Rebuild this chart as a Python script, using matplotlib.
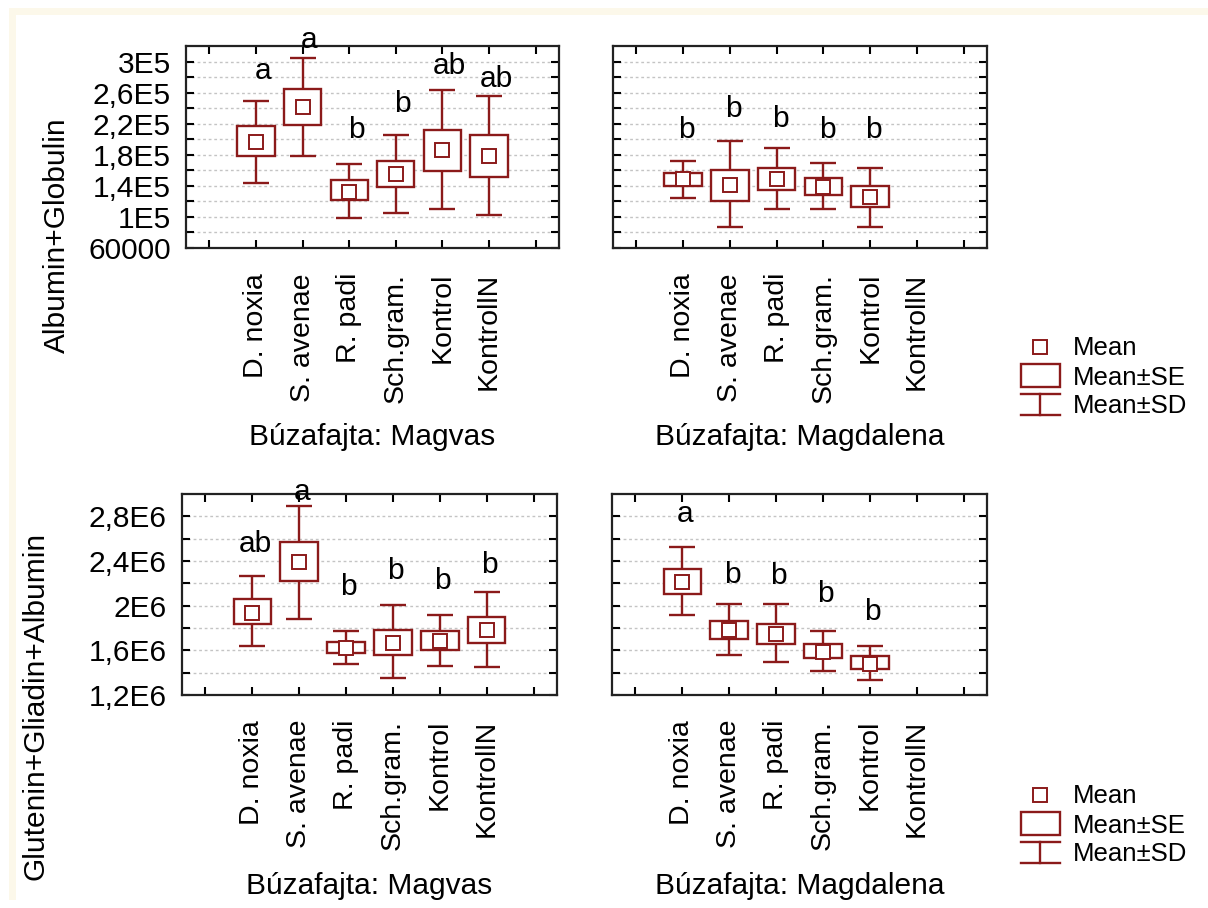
import matplotlib
matplotlib.use("Agg")
import matplotlib.pyplot as plt
from matplotlib.patches import Rectangle
import numpy as np

plt.rcParams['font.family'] = ['Liberation Sans', 'DejaVu Sans']

# ---------------- data ----------------
categories = ['D. noxia', 'S. avenae', 'R. padi', 'Sch.gram.', 'Kontrol', 'KontrollN']
xtick_labels = [''] + categories + ['']

# Albumin+Globulin, Magvas
ag_mv_mean = [197000, 241300, 132600, 155600, 186100, 178700]
ag_mv_se_lo = [179000, 218700, 121300, 138300, 158700, 151700]
ag_mv_se_hi = [216500, 265000, 147000, 172600, 212200, 205200]
ag_mv_sd_lo = [144000, 179000, 98300, 105200, 110000, 103000]
ag_mv_sd_hi = [249000, 304000, 168300, 205200, 263000, 256100]
ag_mv_letters = ['a', 'a', 'b', 'b', 'ab', 'ab']
ag_mv_letter_y = [288300, 327400, 212200, 244800, 293900, 277400]

# Albumin+Globulin, Magdalena (no KontrollN)
ag_md_mean = [148300, 141300, 148300, 139100, 125700]
ag_md_se_lo = [140000, 120900, 135200, 128300, 112600]
ag_md_se_hi = [156500, 160900, 163500, 149600, 140000]
ag_md_sd_lo = [123900, 87400, 110000, 110000, 87000]
ag_md_sd_hi = [172600, 198300, 188700, 170000, 163500]
ag_md_letters = ['b', 'b', 'b', 'b', 'b']
ag_md_letter_y = [212200, 238300, 226100, 212200, 212200]

# Glutenin+Gliadin+Albumin, Magvas
gga_mv_mean = [1.938e6, 2.392e6, 1.618e6, 1.666e6, 1.684e6, 1.778e6]
gga_mv_se_lo = [1.832e6, 2.222e6, 1.572e6, 1.560e6, 1.605e6, 1.669e6]
gga_mv_se_hi = [2.062e6, 2.573e6, 1.672e6, 1.781e6, 1.769e6, 1.899e6]
gga_mv_sd_lo = [1.642e6, 1.881e6, 1.482e6, 1.348e6, 1.463e6, 1.448e6]
gga_mv_sd_hi = [2.268e6, 2.897e6, 1.769e6, 2.008e6, 1.914e6, 2.123e6]
gga_mv_letters = ['ab', 'a', 'b', 'b', 'b', 'b']
gga_mv_letter_y = [2.549e6, 3.018e6, 2.165e6, 2.307e6, 2.222e6, 2.368e6]

# Glutenin+Gliadin+Albumin, Magdalena (no KontrollN)
gga_md_mean = [2.216e6, 1.778e6, 1.748e6, 1.587e6, 1.476e6]
gga_md_se_lo = [2.104e6, 1.702e6, 1.657e6, 1.527e6, 1.430e6]
gga_md_se_hi = [2.331e6, 1.863e6, 1.832e6, 1.657e6, 1.545e6]
gga_md_sd_lo = [1.914e6, 1.560e6, 1.494e6, 1.415e6, 1.333e6]
gga_md_sd_hi = [2.525e6, 2.011e6, 2.011e6, 1.769e6, 1.642e6]
gga_md_letters = ['a', 'b', 'b', 'b', 'b']
gga_md_letter_y = [2.821e6, 2.277e6, 2.268e6, 2.104e6, 1.944e6]

# axis ticks
ag_yticks = [60000, 80000, 100000, 120000, 140000, 160000, 180000, 200000,
             220000, 240000, 260000, 280000, 300000]
ag_yticklabels = ['60000', '', '1E5', '', '1,4E5', '', '1,8E5', '', '2,2E5', '',
                  '2,6E5', '', '3E5']
gga_yticks = [1.2e6, 1.4e6, 1.6e6, 1.8e6, 2.0e6, 2.2e6, 2.4e6, 2.6e6, 2.8e6]
gga_yticklabels = ['1,2E6', '', '1,6E6', '', '2E6', '', '2,4E6', '', '2,8E6']

ag_ylim = (60000, 320000)
gga_ylim = (1.2e6, 3.0e6)

ylabel_top = 'Albumin+Globulin'
ylabel_bottom = 'Glutenin+Gliadin+Albumin'
xlabel_left = 'Búzafajta: Magvas'
xlabel_right = 'Búzafajta: Magdalena'
legend_labels = ['Mean', 'Mean±SE', 'Mean±SD']

# ---------------- style ----------------
RED = '#8b1a1a'
FS = 21.5
FS_XT = 20.5
W, H = 1208, 908

fig = plt.figure(figsize=(W / 100, H / 100), dpi=100)
fig.patch.set_facecolor('white')


def px_axes(l, t, r, b):
    return fig.add_axes([l / W, 1 - b / H, (r - l) / W, (b - t) / H])


def draw_panel(ax, mean, se_lo, se_hi, sd_lo, sd_hi, letters, letter_y,
               yticks, yticklabels, ylim, show_ylabels, xlabel, letter_dx,
               xlabel_y):
    x = np.arange(1, len(mean) + 1)
    bw, cw = 0.40, 0.28
    ax.vlines(x, sd_lo, sd_hi, color=RED, lw=1.7, zorder=3)
    ax.hlines(sd_lo, x - cw, x + cw, color=RED, lw=1.7, zorder=3)
    ax.hlines(sd_hi, x - cw, x + cw, color=RED, lw=1.7, zorder=3)
    for xi, lo, hi in zip(x, se_lo, se_hi):
        ax.add_patch(Rectangle((xi - bw, lo), 2 * bw, hi - lo, facecolor='white',
                               edgecolor=RED, lw=1.7, zorder=4))
    ax.plot(x, mean, linestyle='none', marker='s', ms=9.5, mfc='white',
            mec=RED, mew=1.4, zorder=5)
    for xi, lab, ly in zip(x, letters, letter_y):
        ax.text(xi + letter_dx, ly, lab, ha='center', va='center', fontsize=FS,
                color='black', clip_on=False, zorder=6)

    ax.set_xlim(-0.5, 7.5)
    ax.set_ylim(*ylim)
    ax.set_xticks(range(8))
    ax.set_xticklabels(xtick_labels, rotation=90, fontsize=FS_XT)
    ax.set_yticks(yticks)
    if show_ylabels:
        ax.set_yticklabels(yticklabels, fontsize=FS)
    else:
        ax.set_yticklabels([''] * len(yticks))
    ax.tick_params(axis='x', direction='in', length=6, width=1.5, top=True,
                   bottom=True, pad=18, colors='black')
    ax.tick_params(axis='y', direction='in', length=6, width=1.5, left=True,
                   right=True, pad=11, colors='black')
    ax.yaxis.grid(True, linestyle=(0, (2, 2)), color='#c4c4c4', lw=1.0)
    ax.set_axisbelow(True)
    for sp in ax.spines.values():
        sp.set_linewidth(1.6)
        sp.set_color('#222222')
    ax.set_xlabel(xlabel, fontsize=FS)
    ax.xaxis.set_label_coords(0.5, xlabel_y)


ax_tl = px_axes(186, 46, 559, 248)
ax_tr = px_axes(613, 46, 987, 248)
ax_bl = px_axes(182, 494, 557, 695)
ax_br = px_axes(612, 494, 987, 695)

draw_panel(ax_tl, ag_mv_mean, ag_mv_se_lo, ag_mv_se_hi, ag_mv_sd_lo, ag_mv_sd_hi,
           ag_mv_letters, ag_mv_letter_y, ag_yticks, ag_yticklabels, ag_ylim,
           True, xlabel_left, 0.15, -0.865)
draw_panel(ax_tr, ag_md_mean, ag_md_se_lo, ag_md_se_hi, ag_md_sd_lo, ag_md_sd_hi,
           ag_md_letters, ag_md_letter_y, ag_yticks, ag_yticklabels, ag_ylim,
           False, xlabel_right, 0.08, -0.865)
draw_panel(ax_bl, gga_mv_mean, gga_mv_se_lo, gga_mv_se_hi, gga_mv_sd_lo, gga_mv_sd_hi,
           gga_mv_letters, gga_mv_letter_y, gga_yticks, gga_yticklabels, gga_ylim,
           True, xlabel_left, 0.06, -0.88)
draw_panel(ax_br, gga_md_mean, gga_md_se_lo, gga_md_se_hi, gga_md_sd_lo, gga_md_sd_hi,
           gga_md_letters, gga_md_letter_y, gga_yticks, gga_yticklabels, gga_ylim,
           False, xlabel_right, 0.06, -0.88)

# y labels
ax_tl.set_ylabel(ylabel_top, fontsize=FS)
ax_tl.yaxis.label.set_verticalalignment('baseline')
ax_tl.yaxis.set_label_coords((65 - 186) / 373, (248 - 235) / 202)
ax_bl.set_ylabel(ylabel_bottom, fontsize=FS)
ax_bl.yaxis.label.set_verticalalignment('baseline')
ax_bl.yaxis.set_label_coords((44 - 182) / 375, (695 - 706) / 201)

# ---------------- overlay: frame and legends (pixel coordinates) ----------------
ov = fig.add_axes([0, 0, 1, 1], zorder=10)
ov.set_xlim(0, W)
ov.set_ylim(H, 0)
ov.axis('off')
ov.patch.set_alpha(0)

cream = '#fcf8ea'
ov.add_patch(Rectangle((9, 8), W - 9, 7, facecolor=cream, edgecolor='none'))
ov.add_patch(Rectangle((9, 8), 7, 892, facecolor=cream, edgecolor='none'))


def draw_legend(y0):
    ov.plot([1040], [y0], linestyle='none', marker='s', ms=9.5, mfc='white',
            mec=RED, mew=1.4)
    ov.add_patch(Rectangle((1021, y0 + 17), 39, 23, facecolor='white',
                           edgecolor=RED, lw=1.7))
    ov.plot([1040, 1040], [y0 + 47, y0 + 68], color=RED, lw=1.7)
    ov.plot([1021, 1060], [y0 + 47, y0 + 47], color=RED, lw=1.7)
    ov.plot([1021, 1060], [y0 + 68, y0 + 68], color=RED, lw=1.7)
    for lab, dy in zip(legend_labels, [1, 31, 59]):
        ov.text(1073, y0 + dy, lab, ha='left', va='center', fontsize=18.5,
                color='black')


draw_legend(347)
draw_legend(795)

fig.savefig('out.png', dpi=100)
